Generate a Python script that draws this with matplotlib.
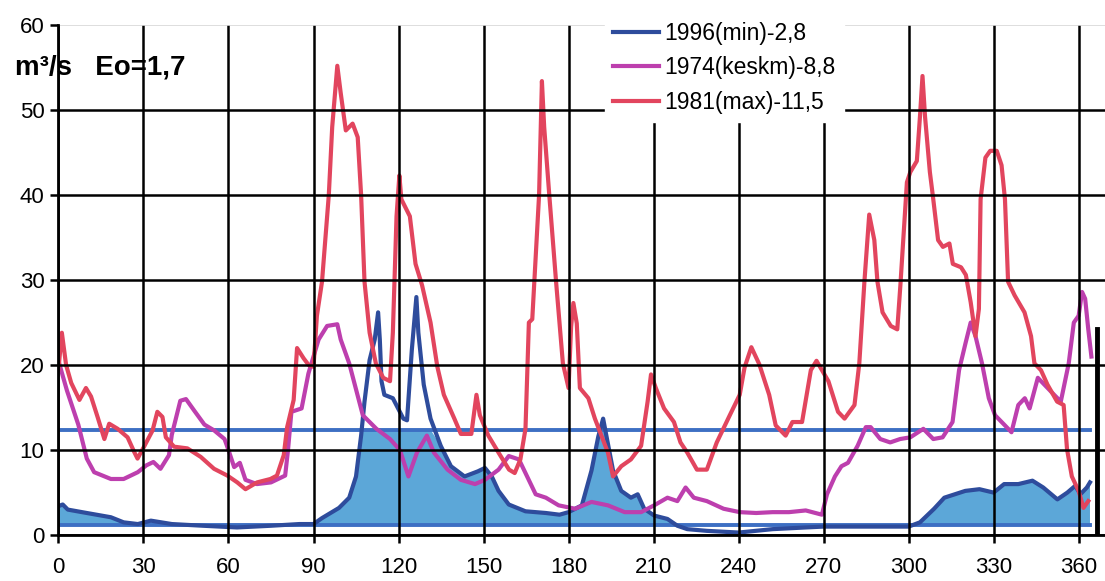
import numpy as np
import matplotlib.pyplot as plt

# Day-of-year discharge readings (m3/s)
days_1996 = [0, 1.5, 3.3, 10, 18.5, 23, 28, 32.6, 40, 51, 63, 75, 85, 90, 93, 99, 102.6, 105,
             106.8, 108, 109.8, 111.6, 112.8, 113.4, 114, 115, 118, 121.7, 123, 124.7, 126.3,
             127, 128.9, 131.3, 134.9, 138.5, 143.3, 148, 150.5, 152.9, 155.3, 158.9, 164.8,
             172, 176.8, 180, 184.7, 188.1, 190.5, 192.2, 193.4, 195.7, 198.6, 202, 204.4,
             206.7, 210.2, 214.9, 218.4, 221.9, 228.8, 240, 252, 263.7, 270, 285, 300, 304,
             309, 312.6, 320, 325, 330, 333.7, 338.7, 343.7, 347.5, 352.5, 356, 358.8, 360.6,
             362.9, 364]
q_1996 = [3.4, 3.6, 3.0, 2.6, 2.1, 1.5, 1.3, 1.7, 1.3, 1.1, 0.9, 1.1, 1.3, 1.3, 2.0, 3.2, 4.4,
          6.9, 11.7, 15.7, 20.6, 23, 26.2, 23, 18.1, 16.5, 16.1, 13.7, 13.5, 21.8, 28.0, 23.8,
          17.7, 13.7, 10.5, 8.1, 6.9, 7.5, 7.9, 6.9, 5.2, 3.6, 2.8, 2.6, 2.4, 2.7, 3.5, 7.6,
          11.6, 13.7, 11.6, 7.6, 5.2, 4.4, 4.8, 3.1, 2.3, 1.9, 1.1, 0.7, 0.5, 0.3, 0.7, 0.9,
          1.0, 1.0, 1.0, 1.5, 3.1, 4.4, 5.2, 5.4, 5.0, 6.0, 6.0, 6.4, 5.6, 4.2, 5.0, 5.8, 4.8,
          5.6, 6.2]

days_1974 = [0, 3, 7, 10, 12.6, 18.5, 23, 28, 31, 33.5, 36, 39, 40, 43, 45, 48, 51.5, 55, 58.6,
             60, 62, 64, 66, 70, 75, 80, 81, 82.2, 85.8, 88.2, 91.8, 94.8, 98.4, 99.6, 102.6,
             107.4, 112.2, 117, 120.5, 123.5, 126.5, 130, 132.5, 137.3, 142, 147, 150.5, 155.3,
             158.9, 162.5, 164.8, 168.4, 172, 176.5, 182.3, 188.1, 193.9, 199.8, 205.6, 210.2,
             214.9, 218.4, 221.3, 224.2, 228.8, 234.7, 240.4, 246.2, 252, 257.8, 263.7, 269.4,
             271.2, 274, 276.3, 278.6, 282, 284.9, 286.6, 290, 293.5, 297, 300.6, 305.2, 308.7,
             312, 315.5, 317.8, 320.1, 321.9, 323.6, 325.9, 328.3, 330.5, 334, 336.3, 338.7,
             341, 342.7, 345.6, 347.9, 350.2, 353.7, 356.5, 358.3, 360, 361.2, 362.3, 363.4,
             364.5]
q_1974 = [20.5, 17, 13, 9, 7.4, 6.6, 6.6, 7.4, 8.2, 8.6, 7.8, 9.4, 11.8, 15.8, 16, 14.6, 13,
          12.3, 11.3, 10, 8, 8.5, 6.5, 6, 6.2, 7, 10, 14.5, 14.9, 19, 23, 24.6, 24.8, 23, 20.2,
          14.1, 12.5, 11.3, 10, 6.9, 9.7, 11.7, 9.7, 7.7, 6.5, 6, 6.5, 7.7, 9.3, 8.9, 7.3, 4.8,
          4.4, 3.5, 3.1, 3.9, 3.5, 2.7, 2.7, 3.5, 4.4, 4, 5.6, 4.4, 4, 3.1, 2.7, 2.6, 2.7, 2.7,
          2.9, 2.4, 4.8, 6.9, 8.1, 8.5, 10.5, 12.7, 12.7, 11.3, 10.9, 11.3, 11.5, 12.5, 11.3,
          11.5, 13.3, 19.4, 22.6, 25, 23.4, 20.2, 16.1, 14.1, 12.9, 12.1, 15.3, 16.1, 14.9,
          18.5, 17.7, 16.9, 15.7, 20.2, 25, 25.8, 28.6, 27.8, 24.2, 21]

days_1981 = [0, 1.2, 2.7, 4.5, 7.4, 9.7, 11.5, 13.8, 16.2, 17.9, 20.9, 24.4, 26.7, 27.9, 30.2,
             33.2, 34.9, 36.7, 37.9, 40.8, 45.5, 50.2, 54.9, 59.6, 63.1, 66, 70.1, 74.8, 77.1,
             79.5, 80.7, 83, 84.2, 86.5, 88.3, 90, 91.2, 93, 95.4, 96.6, 98.4, 99.6, 101.4,
             103.8, 105.6, 106.8, 108, 109.8, 112, 114.6, 117, 118, 119.3, 120.3, 121, 124, 126,
             128.3, 131.3, 133.7, 136, 139.7, 142, 145.7, 147.5, 148.7, 151.7, 155.3, 159, 161,
             163, 164.8, 166, 167.2, 169.6, 170.6, 171.4, 173.2, 175.6, 178, 180, 180.9, 181.7,
             182.9, 184, 187, 189.3, 191.6, 193.9, 195.7, 198.6, 202, 205.6, 207.9, 209.1,
             210.8, 213.7, 217.2, 219.5, 221.9, 225.3, 228.8, 232.3, 236.9, 240.4, 242.1, 244.5,
             247.3, 250.8, 253.1, 256.6, 259, 262.4, 265.5, 267.5, 271.7, 275.1, 277.4, 280.9,
             282.6, 284.4, 286.1, 287.9, 289, 290.8, 293.7, 296, 297.1, 299.4, 300.6, 302.9,
             304, 304.9, 305.8, 307.5, 308.7, 310.4, 312.1, 314.4, 315.6, 318.5, 320.2, 321.9,
             323.6, 324.8, 325.4, 327.1, 328.8, 331.1, 332.8, 334, 335.1, 337.4, 340.9, 343.2,
             344.4, 346.7, 349, 352.4, 354.7, 355.9, 357.6, 360, 361.7, 363.4]
q_1981 = [19.5, 23.8, 20, 17.9, 15.9, 17.3, 16.3, 13.9, 11.3, 13.1, 12.5, 11.5, 9.8, 9.0, 10.4,
          12.3, 14.5, 13.9, 11.5, 10.4, 10.2, 9.2, 7.8, 7.0, 6.2, 5.4, 6.2, 6.6, 7.0, 9.4, 12.7,
          15.9, 22, 20.8, 20, 19.8, 25.8, 29.8, 40, 48, 55.2, 52, 47.6, 48.4, 46.8, 40, 29.8,
          23.8, 20.2, 18.5, 18.1, 23.8, 37.5, 42.3, 39.5, 37.5, 31.9, 29.4, 25, 19.8, 16.5,
          13.7, 11.9, 11.9, 16.5, 14.1, 11.7, 9.7, 7.7, 7.3, 8.9, 12.5, 25, 25.4, 40, 53.4, 48,
          40, 29.8, 20.2, 17.3, 24.5, 27.3, 24.9, 17.3, 16.1, 13.7, 11.7, 9.7, 6.9, 8.1, 8.9,
          10.5, 15.7, 18.9, 17.3, 14.9, 13.3, 10.9, 9.7, 7.7, 7.7, 10.9, 14.1, 16.5, 19.7, 22.1,
          20.1, 16.5, 12.9, 11.7, 13.3, 13.3, 19.4, 20.5, 18.1, 14.5, 13.7, 15.3, 20.2, 29.8,
          37.7, 34.7, 29.8, 26.2, 24.6, 24.2, 29.4, 41.5, 42.7, 44, 49.2, 54, 49.2, 42.7, 39.5,
          34.7, 33.9, 34.3, 31.9, 31.5, 30.6, 27.4, 23.4, 26.6, 39.5, 44.4, 45.2, 45.2, 43.5,
          39.5, 29.8, 28.2, 26.2, 23.4, 20.2, 19.4, 17.7, 15.7, 15.3, 10.1, 6.9, 5.2, 3.2, 4.0]

# Reference levels drawn as horizontal lines
level_days = [0, 364]
eo_level = 1.2
upper_level = 12.4
end_bar_day = 366.5
end_bar_value = 24.2

labels = ['1996(min)-2,8', '1974(keskm)-8,8', '1981(max)-11,5']
x_ticks = list(range(0, 361, 30))
y_ticks = list(range(0, 61, 10))

plt.rcParams['font.family'] = ['Liberation Sans', 'DejaVu Sans']

fig = plt.figure(figsize=(11.05, 5.81), dpi=100)
ax = fig.add_axes([0.0529, 0.079, 0.9471, 0.878])

d96 = np.array(days_1996)
q96 = np.array(q_1996)
ax.fill_between(d96, eo_level, np.minimum(q96, upper_level), where=q96 > eo_level,
                interpolate=True, color='#5ca7d8', lw=0, zorder=1)

ax.plot(level_days, [upper_level] * 2, color='#3d6fc3', lw=2.8, zorder=2)
ax.plot(level_days, [eo_level] * 2, color='#3d6fc3', lw=2.8, zorder=2)

l96, = ax.plot(days_1996, q_1996, color='#2e4c9c', lw=3, zorder=2)
l74, = ax.plot(days_1974, q_1974, color='#bd3fae', lw=3, zorder=2)
l81, = ax.plot(days_1981, q_1981, color='#e2455e', lw=3, zorder=2)

ax.plot([end_bar_day, end_bar_day], [0, end_bar_value], color='black', lw=3.5, zorder=3)

ax.set_xlim(0, 369.3)
ax.set_ylim(0, 60)
ax.set_xticks(x_ticks)
ax.set_yticks(y_ticks)
ax.set_axisbelow(False)
ax.grid(True, color='black', lw=1.8)
ax.yaxis.get_gridlines()[-1].set_color('#d8d8d8')
ax.yaxis.get_gridlines()[-1].set_linewidth(1.2)

for side in ['top', 'right']:
    ax.spines[side].set_visible(False)
for side in ['left', 'bottom']:
    ax.spines[side].set_linewidth(2)
    ax.spines[side].set_zorder(4)

ax.tick_params(axis='both', length=6, width=1.8, labelsize=16, direction='out')
ax.tick_params(axis='x', pad=10)
ax.tick_params(axis='y', pad=4)

fig.text(15 / 1105, 1 - 74 / 581, 'm³/s   Eo=1,7', fontsize=20, fontweight='bold',
         ha='left', va='baseline')

leg = ax.legend([l96, l74, l81], labels, loc='upper left',
                bbox_to_anchor=(605 / 1105, 1 - 14 / 581), bbox_transform=fig.transFigure,
                frameon=True, fancybox=False, edgecolor='white', facecolor='white',
                framealpha=1, fontsize=16.5, handlelength=2.0, handletextpad=0.25,
                labelspacing=0.5, borderpad=0.35, borderaxespad=0)
leg.set_zorder(5)

fig.savefig('out.png', dpi=100)
